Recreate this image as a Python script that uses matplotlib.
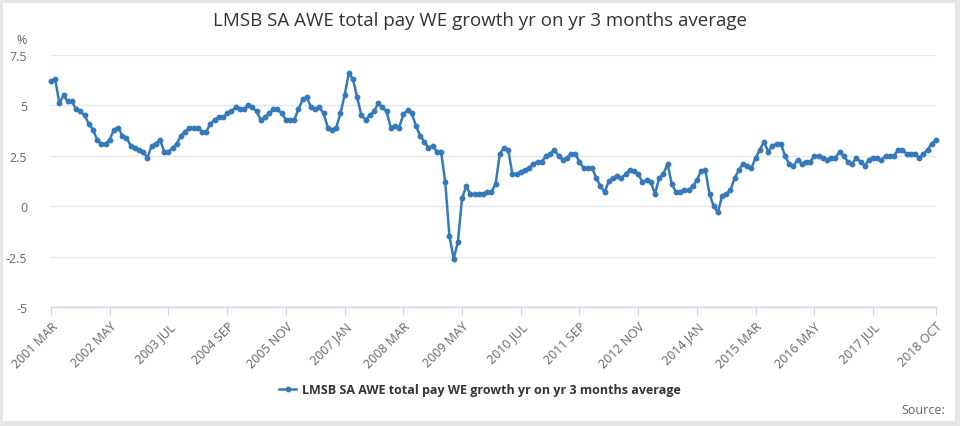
import matplotlib
matplotlib.use("Agg")
from matplotlib import pyplot as plt
from matplotlib.patches import Rectangle
from matplotlib.lines import Line2D

title = "LMSB SA AWE total pay WE growth yr on yr 3 months average"
series_name = "LMSB SA AWE total pay WE growth yr on yr 3 months average"

months = ["JAN", "FEB", "MAR", "APR", "MAY", "JUN",
          "JUL", "AUG", "SEP", "OCT", "NOV", "DEC"]
start_year, start_month = 2001, 3

# monthly values, 2001 MAR .. 2018 OCT
growth = [
    6.2, 6.3, 5.1, 5.5, 5.2, 5.2, 4.8, 4.7, 4.5, 4.1, 3.8, 3.3, 3.1, 3.1,
    3.3, 3.8, 3.9, 3.5, 3.4, 3.0, 2.9, 2.8, 2.7, 2.4, 3.0, 3.1, 3.3,
    2.7, 2.7, 2.9, 3.1, 3.5, 3.7, 3.9, 3.9, 3.9, 3.7, 3.7, 4.1, 4.3, 4.4,
    4.4, 4.6, 4.7, 4.9, 4.8, 4.8, 5.0, 4.9, 4.7, 4.3, 4.4, 4.6,
    4.8, 4.8, 4.6, 4.3, 4.3, 4.3, 4.8, 5.3, 5.4, 4.9, 4.8, 4.9, 4.6, 3.9,
    3.8, 3.9, 4.6, 5.5, 6.6, 6.3, 5.4, 4.5, 4.3, 4.5, 4.7, 5.1,
    4.9, 4.7, 3.9, 4.0, 3.9, 4.55, 4.75, 4.6, 4.0, 3.5, 3.2, 2.9, 3.0,
    2.7, 2.7, 1.2, -1.5, -2.6, -1.8, 0.4, 1.0, 0.6, 0.6, 0.6, 0.6, 0.7,
    0.7, 1.1, 2.6, 2.9, 2.8, 1.6, 1.6, 1.7, 1.8, 1.9, 2.1, 2.2, 2.2, 2.5,
    2.6, 2.8, 2.5, 2.3, 2.4, 2.6, 2.6, 2.2, 1.9, 1.9, 1.9, 1.4, 1.0,
    0.7, 1.25, 1.4, 1.5, 1.4, 1.6, 1.8, 1.75, 1.6, 1.2, 1.3, 1.2, 0.6,
    1.4, 1.6, 2.1, 1.1, 0.7, 0.7, 0.8, 0.8, 1.0, 1.3, 1.75, 1.8, 0.6,
    0.0, -0.3, 0.5, 0.6, 0.8, 1.4, 1.8, 2.1, 2.0, 1.9, 2.4, 2.8, 3.2,
    2.7, 3.0, 3.1, 3.1, 2.5, 2.1, 2.0, 2.3, 2.1, 2.2, 2.2, 2.5, 2.5,
    2.4, 2.3, 2.4, 2.4, 2.7, 2.5, 2.2, 2.1, 2.4, 2.2, 2.0, 2.3, 2.4, 2.4,
    2.3, 2.5, 2.5, 2.5, 2.8, 2.8, 2.6, 2.6, 2.6, 2.4, 2.6, 2.8, 3.1, 3.3,
]
y_ticks = [-5, -2.5, 0, 2.5, 5, 7.5]
y_tick_labels = ["-5", "-2.5", "0", "2.5", "5", "7.5"]

line_color = "#3479bb"
text_color = "#666666"


def month_label(i):
    m = start_month - 1 + i
    return f"{start_year + m // 12} {months[m % 12]}"


n = len(growth)
x = list(range(n))
# a label every 14 months, plus the last month
tick_pos = list(range(0, n - 14, 14)) + [n - 1]
tick_labels = [month_label(i) for i in tick_pos]

plt.rcParams['font.family'] = ['Open Sans', 'DejaVu Sans']

fig = plt.figure(figsize=(9.6, 4.27), dpi=100)
fig.patch.set_facecolor("#e6e6e6")
fig.patches.append(Rectangle((3 / 960, 1 - 422 / 427), 952 / 960, 418 / 427,
                             transform=fig.transFigure, facecolor="white",
                             edgecolor="none", zorder=-10))

ax = fig.add_axes([51 / 960, 1 - 308 / 427, 885 / 960, 252 / 427])
ax.set_zorder(2)
ax.set_facecolor("none")
ax.plot(x, growth, color=line_color, lw=1.8, marker="o", markersize=3.2,
        clip_on=False, zorder=3)

ax.set_xlim(0, n - 1)
ax.set_ylim(-5, 7.5)
ax.set_yticks(y_ticks)
ax.set_yticklabels(y_tick_labels)
ax.yaxis.grid(True, color="#e6e6e6", lw=1)
ax.set_axisbelow(True)
for s in ["top", "right", "left"]:
    ax.spines[s].set_visible(False)
ax.spines["bottom"].set_color("#ccd6eb")
ax.spines["bottom"].set_linewidth(1)

ax.set_xticks(tick_pos)
ax.set_xticklabels(tick_labels, rotation=45, ha="right", rotation_mode="anchor")
ax.tick_params(axis="x", length=6, color="#ccd6eb", labelsize=9,
               labelcolor=text_color, pad=3)
ax.tick_params(axis="y", length=0, labelsize=9, labelcolor=text_color, pad=17)

fig.text(22 / 960, 1 - 40 / 427, "%", fontsize=9, color=text_color,
         ha="center", va="center")
fig.text(0.5, 1 - 21 / 427, title, fontsize=13.5, color="#333333",
         ha="center", va="center")

handle = Line2D([], [], color=line_color, lw=1.8, marker="o", markersize=3.2)
leg = fig.legend([handle], [series_name], loc="center",
                 bbox_to_anchor=(480 / 960, 1 - 391 / 427), frameon=False,
                 prop={"size": 9, "weight": "bold"}, handlelength=1.4,
                 handletextpad=0.5)
for t in leg.get_texts():
    t.set_color("#333333")

fig.text(945 / 960, 1 - 411 / 427, "Source:", fontsize=9, color=text_color,
         ha="right", va="center")

fig.savefig("out.png", dpi=100, facecolor=fig.get_facecolor())
